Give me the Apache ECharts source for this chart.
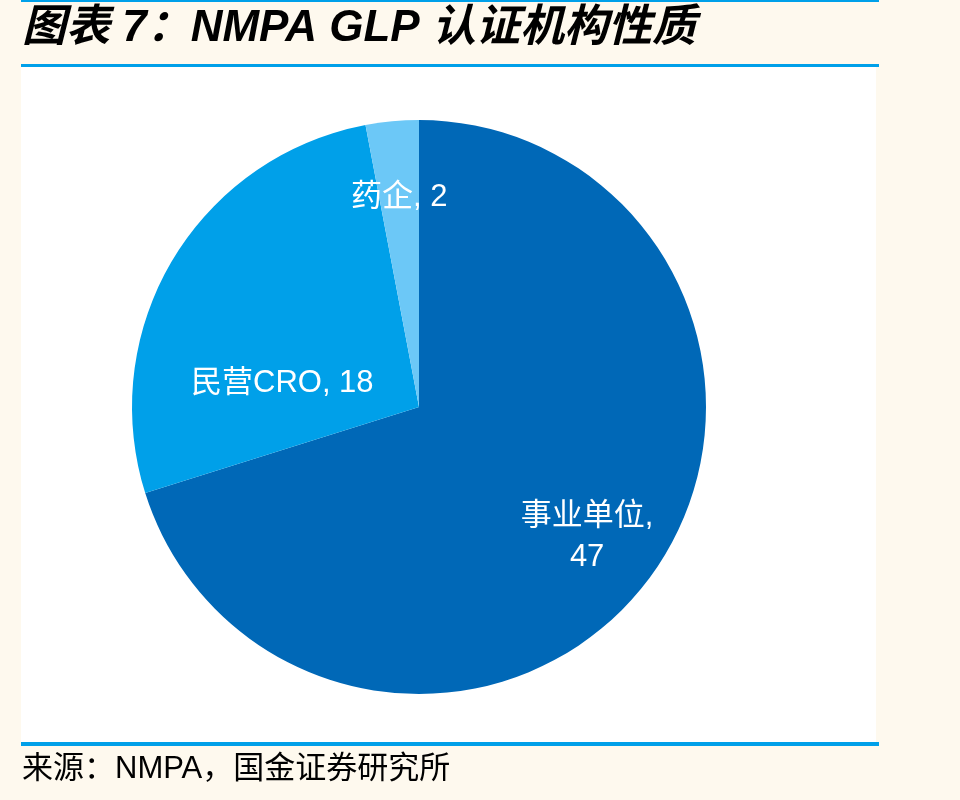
<!DOCTYPE html>
<html>
<head>
<meta charset="utf-8">
<script src="https://cdn.jsdelivr.net/npm/echarts@6/dist/echarts.min.js"></script>
<style>
  html, body { margin: 0; padding: 0; background: #fef9ee; }
  #main { width: 960px; height: 800px; }
</style>
</head>
<body>
<div id="main"></div>
<script>
const categories = ['事业单位', '民营CRO', '药企']
const values = [47, 18, 2]
const colors = ['#0068b7', '#00a0e9', '#6cc8f7']
// nudges from the default inside label spot, to match the hand-placed labels
const labelOffsets = [[50, 43], [-11, 52], [-6, -64]]

const titleText = '图表 7：NMPA GLP 认证机构性质'
const sourceText = '来源：NMPA，国金证券研究所'

const cjk = '"Liberation Sans", Arial, "Noto Sans CJK SC", sans-serif'

const chart = echarts.init(document.getElementById('main'))

const pieData = categories.map((name, i) => ({
  name,
  value: values[i],
  itemStyle: { color: colors[i] },
  label: { offset: labelOffsets[i] },
}))

chart.setOption({
  backgroundColor: '#fef9ee',
  animation: false,
  graphic: [
    { type: 'rect', shape: { x: 21, y: 0, width: 858, height: 2 }, style: { fill: '#00a0e9' } },
    { type: 'rect', shape: { x: 21, y: 67, width: 855, height: 676 }, style: { fill: '#ffffff' }, z: -1 },
    { type: 'rect', shape: { x: 21, y: 64, width: 858, height: 3 }, style: { fill: '#00a0e9' } },
    { type: 'rect', shape: { x: 21, y: 742, width: 858, height: 4 }, style: { fill: '#00a0e9' } },
    {
      type: 'text', left: 22, top: 7,
      style: { text: titleText, font: 'italic bold 44px ' + cjk, fill: '#000' },
    },
    {
      type: 'text', left: 22, top: 754,
      style: { text: sourceText, font: '31px ' + cjk, fill: '#000' },
    },
  ],
  series: [
    {
      type: 'pie',
      center: [419, 407],
      radius: [0, 287],
      startAngle: 90,
      clockwise: true,
      data: pieData,
      itemStyle: { borderWidth: 0 },
      label: {
        show: true,
        position: 'inside',
        color: '#fff',
        fontSize: 31,
        lineHeight: 41,
        fontFamily: cjk,
        formatter: (p) => p.name === '事业单位' ? p.name + ',\n' + p.value : p.name + ', ' + p.value,
      },
      labelLine: { show: false },
      emphasis: { disabled: true },
    },
  ],
})

window.addEventListener('resize', () => chart.resize())
</script>
</body>
</html>
